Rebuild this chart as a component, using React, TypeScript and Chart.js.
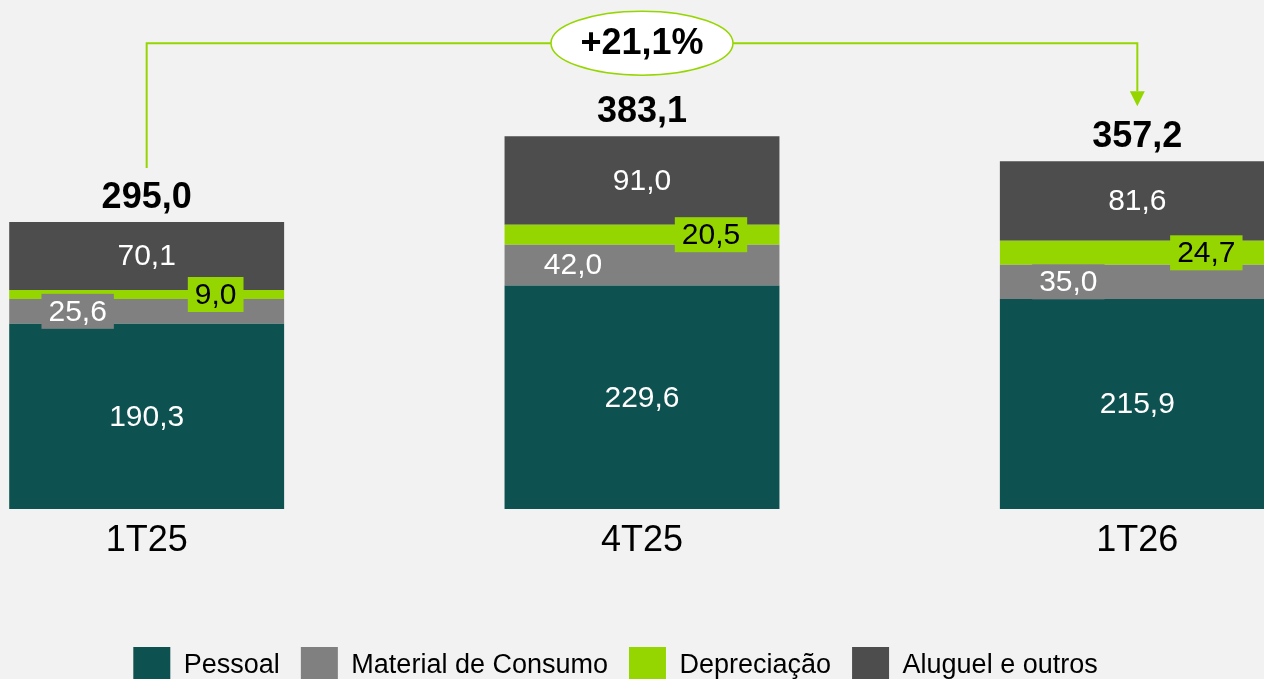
import React, { useEffect, useRef } from 'react';
import { Chart, registerables } from 'chart.js';

Chart.register(...registerables);

// ---- Data ----
const categories = ['1T25', '4T25', '1T26'];
const seriesNames = ['Pessoal', 'Material de Consumo', 'Depreciação', 'Aluguel e outros'];
const pessoal = [190.3, 229.6, 215.9];
const material = [25.6, 42.0, 35.0];
const depreciacao = [9.0, 20.5, 24.7];
const aluguel = [70.1, 91.0, 81.6];
const totals = [295.0, 383.1, 357.2];
const growthLabel = '+21,1%';

// ---- Styles ----
const COLORS = ['#0D5150', '#808080', '#96D600', '#4D4D4D'];
const LABEL_COLORS = ['#FFFFFF', '#FFFFFF', '#000000', '#FFFFFF'];
const BG = '#F2F2F2';
const LINE_GREEN = '#96D600';
const FONT = '"Liberation Sans", Arial, sans-serif';

const fmt = (v: number) => v.toFixed(1).replace('.', ',');

const backgroundPlugin = {
  id: 'bg',
  beforeDraw(chart: any) {
    const { ctx, width, height } = chart;
    ctx.save();
    ctx.fillStyle = BG;
    ctx.fillRect(0, 0, width, height);
    ctx.restore();
  },
};

const labelsPlugin = {
  id: 'segLabels',
  afterDatasetsDraw(chart: any) {
    const { ctx } = chart;
    ctx.save();
    ctx.textAlign = 'center';
    ctx.textBaseline = 'middle';
    chart.data.datasets.forEach((ds: any, di: number) => {
      const meta = chart.getDatasetMeta(di);
      meta.data.forEach((bar: any, i: number) => {
        const v = ds.data[i];
        const cy = (bar.y + bar.base) / 2;
        let cx = bar.x;
        if (di === 1) cx = bar.x - 69;
        if (di === 2) cx = bar.x + 69;
        const text = fmt(v);
        ctx.font = `30px ${FONT}`;
        if (di === 1 || di === 2) {
          const w = ctx.measureText(text).width + 14;
          ctx.fillStyle = COLORS[di];
          ctx.fillRect(cx - w / 2, cy - 17.5, w, 35);
        }
        ctx.fillStyle = LABEL_COLORS[di];
        ctx.fillText(text, cx, cy + 1);
      });
    });
    // totals
    const lastMeta = chart.getDatasetMeta(chart.data.datasets.length - 1);
    ctx.font = `bold 36px ${FONT}`;
    ctx.fillStyle = '#000000';
    lastMeta.data.forEach((bar: any, i: number) => {
      ctx.fillText(fmt(totals[i]), bar.x, bar.y - 24);
    });
    ctx.restore();
  },
};

const bracketPlugin = {
  id: 'bracket',
  afterDraw(chart: any) {
    const { ctx } = chart;
    const lastMeta = chart.getDatasetMeta(chart.data.datasets.length - 1);
    const b0 = lastMeta.data[0];
    const b1 = lastMeta.data[1];
    const b2 = lastMeta.data[2];
    const topMin = Math.min(b0.y, b1.y, b2.y);
    const bracketY = topMin - 93;
    const startY = b0.y - 54;
    const tipY = b2.y - 55;
    ctx.save();
    ctx.strokeStyle = LINE_GREEN;
    ctx.lineWidth = 2;
    ctx.beginPath();
    ctx.moveTo(b0.x, startY);
    ctx.lineTo(b0.x, bracketY);
    ctx.lineTo(b2.x, bracketY);
    ctx.lineTo(b2.x, tipY - 15);
    ctx.stroke();
    ctx.fillStyle = LINE_GREEN;
    ctx.beginPath();
    ctx.moveTo(b2.x - 7.5, tipY - 15);
    ctx.lineTo(b2.x + 7.5, tipY - 15);
    ctx.lineTo(b2.x, tipY);
    ctx.closePath();
    ctx.fill();
    // oval
    ctx.beginPath();
    ctx.ellipse(b1.x, bracketY, 91, 32, 0, 0, Math.PI * 2);
    ctx.fillStyle = '#FFFFFF';
    ctx.fill();
    ctx.lineWidth = 1.5;
    ctx.strokeStyle = LINE_GREEN;
    ctx.stroke();
    ctx.fillStyle = '#000000';
    ctx.font = `bold 36px ${FONT}`;
    ctx.textAlign = 'center';
    ctx.textBaseline = 'middle';
    ctx.fillText(growthLabel, b1.x, bracketY + 1);
    ctx.restore();
  },
};

export default function App() {
  const ref = useRef<HTMLCanvasElement>(null);

  useEffect(() => {
    if (!ref.current) return;
    const seriesValues = [pessoal, material, depreciacao, aluguel];
    const chart = new Chart(ref.current, {
      type: 'bar',
      data: {
        labels: categories,
        datasets: seriesNames.map((name, i) => ({
          label: name,
          data: seriesValues[i],
          backgroundColor: COLORS[i],
          borderWidth: 0,
          barPercentage: 0.555,
          categoryPercentage: 1,
        })),
      },
      options: {
        responsive: false,
        animation: false,
        layout: { padding: 0 },
        scales: {
          x: {
            stacked: true,
            grid: { display: false, drawTicks: false },
            border: { display: false },
            ticks: {
              color: '#000000',
              font: { size: 36, family: FONT },
              padding: 10,
            },
            afterFit: (scale: any) => {
              scale.height = 117;
            },
          },
          y: {
            stacked: true,
            min: 0,
            max: 523,
            grid: { display: false, drawTicks: false },
            border: { display: false },
            ticks: { display: false },
            afterFit: (scale: any) => {
              scale.width = 53;
            },
          },
        },
        plugins: {
          legend: {
            position: 'bottom',
            labels: {
              boxWidth: 37,
              boxHeight: 38,
              padding: 21,
              color: '#000000',
              font: { size: 27, family: FONT },
            },
          },
          tooltip: { enabled: false },
        },
      },
      plugins: [backgroundPlugin, labelsPlugin, bracketPlugin],
    });
    return () => chart.destroy();
  }, []);

  return (
    <div
      style={{
        position: 'fixed',
        left: 0,
        top: 0,
        width: '100vw',
        height: '100vh',
        overflow: 'hidden',
        background: BG,
      }}
    >
      <canvas
        ref={ref}
        width={1539}
        height={695}
        style={{ position: 'absolute', left: -154, top: 0, width: 1539, height: 695 }}
      />
    </div>
  );
}
